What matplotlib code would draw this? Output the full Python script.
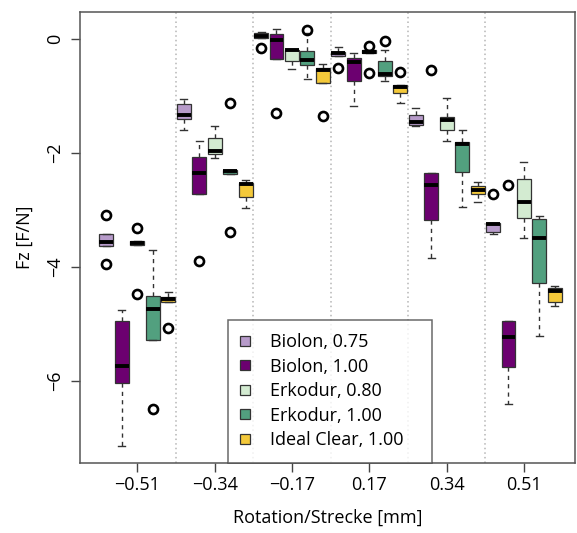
import numpy as np
import matplotlib.pyplot as plt
from matplotlib.lines import Line2D

plt.rcParams['font.family'] = ['Open Sans', 'DejaVu Sans']

# x groups (rotation/stroke) and series
groups = ['\u22120.51', '\u22120.34', '\u22120.17', '0.17', '0.34', '0.51']
series = ['Biolon, 0.75', 'Biolon, 1.00', 'Erkodur, 0.80', 'Erkodur, 1.00', 'Ideal Clear, 1.00']
colors = ['#b79bca', '#6c0070', '#d3ebd1', '#52a07f', '#f4c93a']

# per group: (lower whisker, q1, median, q3, upper whisker)
biolon_075 = [(-3.63, -3.63, -3.56, -3.42, -3.42), (-1.59, -1.40, -1.33, -1.14, -1.05),
              (0.02, 0.02, 0.06, 0.10, 0.13), (-0.29, -0.29, -0.25, -0.22, -0.13),
              (-1.52, -1.50, -1.45, -1.33, -1.21), (-3.42, -3.39, -3.25, -3.23, -3.23)]
biolon_100 = [(-7.14, -6.04, -5.73, -4.94, -4.75), (-2.71, -2.71, -2.35, -2.06, -1.78),
              (-0.35, -0.35, -0.02, 0.09, 0.18), (-1.18, -0.74, -0.41, -0.33, -0.24),
              (-3.84, -3.17, -2.56, -2.35, -2.35), (-6.40, -5.76, -5.23, -4.94, -4.94)]
erkodur_080 = [(-3.62, -3.62, -3.58, -3.55, -3.55), (-2.09, -2.02, -1.96, -1.74, -1.53),
               (-0.52, -0.38, -0.20, -0.19, -0.17), (-0.25, -0.25, -0.22, -0.19, -0.19),
               (-1.78, -1.59, -1.42, -1.36, -1.04), (-3.48, -3.14, -2.85, -2.45, -2.16)]
erkodur_100 = [(-5.27, -5.27, -4.73, -4.50, -3.70), (-2.36, -2.36, -2.32, -2.29, -2.29),
               (-0.70, -0.46, -0.36, -0.21, 0.10), (-0.73, -0.64, -0.61, -0.39, -0.19),
               (-2.94, -2.33, -1.84, -1.81, -1.60), (-5.21, -4.28, -3.48, -3.16, -3.10)]
ideal_100 = [(-4.61, -4.61, -4.56, -4.52, -4.43), (-2.96, -2.77, -2.54, -2.52, -2.48),
             (-0.77, -0.77, -0.54, -0.51, -0.43), (-1.12, -0.94, -0.84, -0.80, -0.80),
             (-2.85, -2.71, -2.64, -2.57, -2.51), (-4.69, -4.62, -4.42, -4.37, -4.33)]

# outliers per group
biolon_075_out = [[-3.08, -3.95], [], [-0.16], [-0.51], [], [-2.72]]
biolon_100_out = [[], [-3.90], [-1.30], [], [-0.55], [-2.56]]
erkodur_080_out = [[-3.31, -4.47], [], [], [-0.12, -0.60], [], []]
erkodur_100_out = [[-6.49], [-1.12, -3.39], [0.16], [-0.04], [], []]
ideal_100_out = [[-5.07], [], [-1.35], [-0.58], [], []]

all_stats = [biolon_075, biolon_100, erkodur_080, erkodur_100, ideal_100]
all_out = [biolon_075_out, biolon_100_out, erkodur_080_out, erkodur_100_out, ideal_100_out]

fig = plt.figure(figsize=(5.77, 5.33), dpi=100)
ax = fig.add_axes([80 / 577, 1 - 462.7 / 533, 495 / 577, 450.4 / 533])

offsets = [-0.4, -0.2, 0.0, 0.2, 0.4]
centers = np.arange(1, len(groups) + 1)

for s, (stats5, outs) in enumerate(zip(all_stats, all_out)):
    bstats = []
    for (lo, q1, med, q3, hi), fl in zip(stats5, outs):
        bstats.append(dict(whislo=lo, q1=q1, med=med, q3=q3, whishi=hi, fliers=fl))
    ax.bxp(bstats, positions=centers + offsets[s], widths=0.18, patch_artist=True,
           boxprops=dict(facecolor=colors[s], edgecolor='#333333', linewidth=0.9),
           medianprops=dict(color='black', linewidth=2.8, solid_capstyle='butt'),
           whiskerprops=dict(color='#333333', linewidth=1.0, linestyle=(0, (3, 3))),
           capprops=dict(color='#333333', linewidth=1.0),
           flierprops=dict(marker='o', markersize=6.5, markerfacecolor='none',
                           markeredgecolor='black', markeredgewidth=1.9),
           manage_ticks=False)

for xv in centers[:-1] + 0.5:
    ax.axvline(xv, color='#b5b5b5', linestyle=(0, (1, 2)), linewidth=1.1, zorder=0)

ax.set_xlim(0.259, 6.66)
ax.set_ylim(-7.43, 0.47)
ax.set_xticks(centers)
ax.set_xticklabels(groups)
ax.set_yticks([0, -2, -4, -6])
ax.set_yticklabels(['0', '\u22122', '\u22124', '\u22126'], rotation=90, va='center')
ax.tick_params(axis='both', direction='out', length=6.5, width=1, color='#444444',
               labelsize=13)
ax.tick_params(axis='x', pad=3)
ax.tick_params(axis='y', pad=5)
for sp in ax.spines.values():
    sp.set_color('#555555')
    sp.set_linewidth(1.1)

ax.set_xlabel('Rotation/Strecke [mm]', fontsize=13, labelpad=11)
ax.set_ylabel('Fz [F/N]', fontsize=13, labelpad=9)

handles = [Line2D([], [], linestyle='none', marker='s', markersize=7.5,
                  markerfacecolor=c, markeredgecolor='#333333', markeredgewidth=0.9)
           for c in colors]
leg = ax.legend(handles, series, loc='lower left', bbox_to_anchor=(0.299, 0.0, 0.413, 0.311),
                mode='expand', fontsize=13, frameon=True, fancybox=False, borderpad=0.75,
                labelspacing=0.36, handletextpad=1.2, handlelength=0.4,
                borderaxespad=0)
leg.get_frame().set_edgecolor('#444444')
leg.get_frame().set_linewidth(1.1)

fig.savefig('out.png', dpi=100)
